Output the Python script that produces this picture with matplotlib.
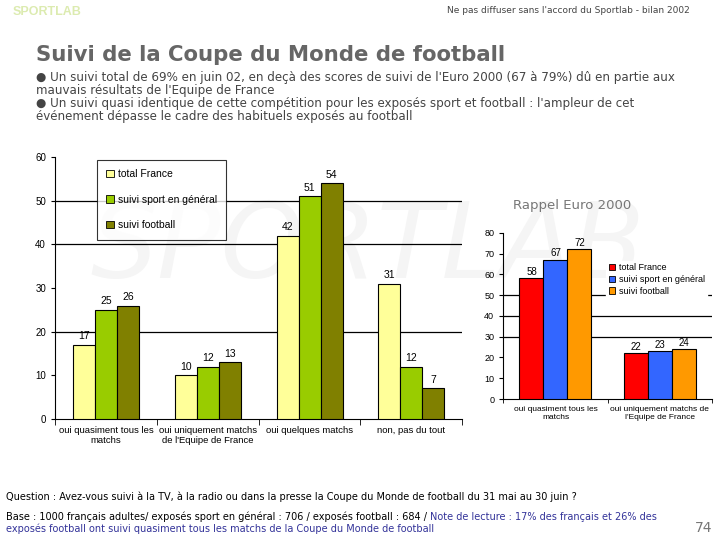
import numpy as np
import matplotlib
matplotlib.use('Agg')
import matplotlib.pyplot as plt
from matplotlib import font_manager

# main chart data (Coupe du Monde 2002)
categories = ['oui quasiment tous les\nmatchs', 'oui uniquement matchs\nde l\'Equipe de France',
              'oui quelques matchs', 'non, pas du tout']
series_names = ['total France', 'suivi sport en général', 'suivi football']
total_france = [17, 10, 42, 31]
sport_general = [25, 12, 51, 12]
football = [26, 13, 54, 7]

# inset data (Euro 2000)
euro_categories = ['oui quasiment tous les\nmatchs', 'oui uniquement matchs de\nl\'Equipe de France']
euro_total = [58, 22]
euro_sport = [67, 23]
euro_foot = [72, 24]

# narrow font for the small chart labels, if there is one
try:
    font_manager.findfont('Liberation Sans Narrow', fallback_to_default=False)
    narrow = 'Liberation Sans Narrow'
except Exception:
    narrow = 'Liberation Sans'

fig = plt.figure(figsize=(7.2, 5.4), dpi=100)
fig.patch.set_facecolor('white')

# watermark, behind everything
fig.text(0.125, 0.445, 'SPORTLAB', fontsize=76, color='#f5f5f5', style='italic',
         ha='left', va='bottom', zorder=-5)

# header
fig.text(0.018, 0.977, 'SPORTLAB', fontsize=9, color='#dcebb0', fontweight='bold',
         va='center', family=narrow)
fig.text(0.958, 0.981, "Ne pas diffuser sans l'accord du Sportlab - bilan 2002",
         fontsize=6.5, color='#444444', ha='right', va='center')
fig.text(0.05, 0.898, 'Suivi de la Coupe du Monde de football', fontsize=15.3,
         fontweight='bold', color='#666666', va='center')
bullets = ("\u25cf Un suivi total de 69% en juin 02, en deçà des scores de suivi de l'Euro 2000 (67 à 79%) dû en partie aux\n"
           "mauvais résultats de l'Equipe de France\n"
           "\u25cf Un suivi quasi identique de cette compétition pour les exposés sport et football : l'ampleur de cet\n"
           "événement dépasse le cadre des habituels exposés au football")
fig.text(0.05, 0.868, bullets, fontsize=8.6, color='#444444', va='top', linespacing=0.98)

# main chart
ax = fig.add_axes([0.0764, 0.224, 0.5656, 0.485])
x = np.arange(len(categories))
w = 0.216
colors = ['#ffff99', '#99cc00', '#808000']
for i, (vals, c, name) in enumerate(zip([total_france, sport_general, football], colors, series_names)):
    bars = ax.bar(x + (i - 1) * w, vals, w, color=c, edgecolor='black', linewidth=0.8,
                  label=name, zorder=3)
    for b, v in zip(bars, vals):
        ax.text(b.get_x() + b.get_width() / 2, v + 0.8, str(v), ha='center', va='bottom',
                fontsize=7.5, family=narrow, zorder=4)
ax.set_xlim(-0.5, 3.5)
ax.set_ylim(0, 60)
ax.set_yticks(range(0, 61, 10))
for g in [20, 40, 50]:
    ax.axhline(g, color='black', linewidth=0.9, zorder=1)
ax.set_xticks(x)
ax.set_xticklabels(categories, fontsize=6.8, family=narrow)
ax.set_xticks(np.arange(-0.5, 4, 1), minor=True)
ax.tick_params(axis='x', which='major', length=0, pad=5)
ax.tick_params(axis='x', which='minor', length=4, direction='out')
ax.tick_params(axis='y', labelsize=7, length=3, direction='out')
for lab in ax.get_yticklabels():
    lab.set_family(narrow)
for s in ['top', 'right']:
    ax.spines[s].set_visible(False)
ax.patch.set_alpha(0)
leg = ax.legend(loc='upper left', bbox_to_anchor=(0.09, 1.01), prop={'family': narrow, 'size': 7.5},
                frameon=True, fancybox=False, edgecolor='black', handlelength=0.7, handleheight=0.7,
                labelspacing=1.5, borderpad=0.9, handletextpad=0.4)
leg.get_frame().set_linewidth(0.8)
for h in leg.legend_handles:
    h.set_linewidth(0.6)

# inset chart
fig.text(0.795, 0.62, 'Rappel Euro 2000', fontsize=9.5, color='#777777', ha='center', va='center')
ax2 = fig.add_axes([0.699, 0.261, 0.29, 0.308])
x2 = np.arange(len(euro_categories))
w2 = 0.23
colors2 = ['#ff0000', '#3366ff', '#ff9900']
for i, (vals, c, name) in enumerate(zip([euro_total, euro_sport, euro_foot], colors2, series_names)):
    bars = ax2.bar(x2 + (i - 1) * w2, vals, w2, color=c, edgecolor='black', linewidth=0.8,
                   label=name, zorder=3)
    for b, v in zip(bars, vals):
        ax2.text(b.get_x() + b.get_width() / 2, v + 0.8, str(v), ha='center', va='bottom',
                 fontsize=7, family=narrow, zorder=4)
ax2.set_xlim(-0.5, 1.5)
ax2.set_ylim(0, 80)
ax2.set_yticks(range(0, 81, 10))
for g in [30, 40, 50]:
    ax2.axhline(g, color='black', linewidth=0.9, zorder=1)
ax2.set_xticks(x2)
ax2.set_xticklabels(euro_categories, fontsize=6, family=narrow)
ax2.set_xticks(np.arange(-0.5, 2, 1), minor=True)
ax2.tick_params(axis='x', which='major', length=0, pad=5)
ax2.tick_params(axis='x', which='minor', length=3, direction='out')
ax2.tick_params(axis='y', labelsize=6.5, length=3, direction='out')
for lab in ax2.get_yticklabels():
    lab.set_family(narrow)
for s in ['top', 'right']:
    ax2.spines[s].set_visible(False)
ax2.patch.set_alpha(0)
leg2 = ax2.legend(loc='upper left', bbox_to_anchor=(0.47, 0.86), prop={'family': narrow, 'size': 6.5},
                  frameon=True, fancybox=False, edgecolor='white', facecolor='white', framealpha=1,
                  handlelength=0.7, handleheight=0.7, labelspacing=0.3, borderpad=0.3,
                  handletextpad=0.4)
for h in leg2.legend_handles:
    h.set_linewidth(0.6)

# footer
fig.text(0.008, 0.081, 'Question : Avez-vous suivi à la TV, à la radio ou dans la presse la Coupe du Monde de football du 31 mai au 30 juin ?',
         fontsize=7, color='black', va='center')
t1 = fig.text(0.008, 0.043, 'Base : 1000 français adultes/ exposés sport en général : 706 / exposés football : 684 / ',
              fontsize=7, color='black', va='center')
fig.canvas.draw()
bb = t1.get_window_extent(renderer=fig.canvas.get_renderer())
x_note = bb.x1 / fig.bbox.width
fig.text(x_note, 0.043, 'Note de lecture : 17% des français et 26% des', fontsize=7,
         color='#333399', va='center')
fig.text(0.008, 0.02, 'exposés football ont suivi quasiment tous les matchs de la Coupe du Monde de football',
         fontsize=7, color='#333399', va='center')
fig.text(0.99, 0.022, '74', fontsize=10, color='#777777', ha='right', va='center')

fig.savefig('out.png', dpi=100)
